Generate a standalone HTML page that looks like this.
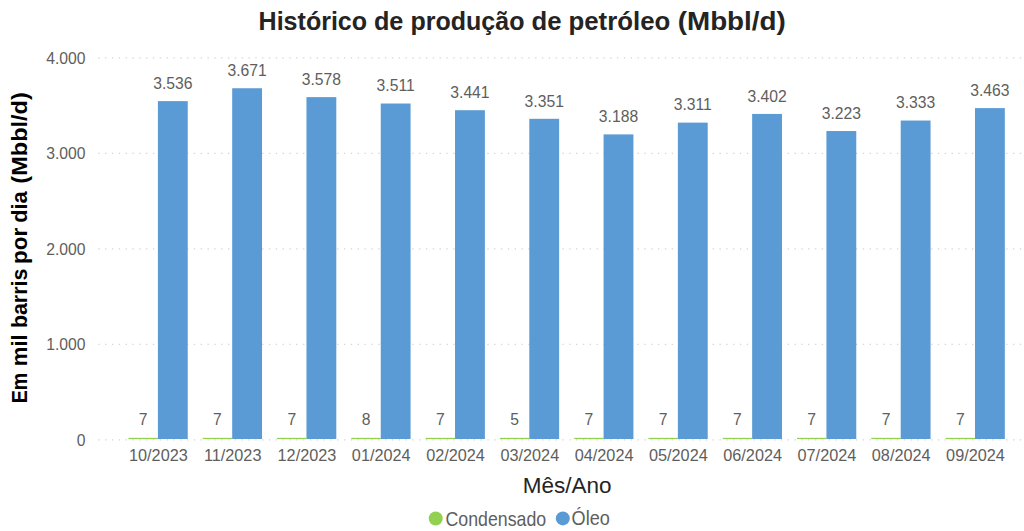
<!DOCTYPE html><html><head><meta charset="utf-8"><title>Histórico de produção de petróleo</title><style>
html,body{margin:0;padding:0;background:#fff;width:1024px;height:531px;overflow:hidden}
svg{display:block;font-family:"Liberation Sans",sans-serif}
</style></head><body>
<svg width="1024" height="531" viewBox="0 0 1024 531">
<line x1="98.29" y1="439.85" x2="1021.10" y2="439.85" stroke="#D4D4D4" stroke-width="1.3" stroke-dasharray="1.3 5.526"/>
<text transform="translate(85.50 445.55) scale(0.9250 1)" text-anchor="end" font-size="17.0" fill="#605E5C">0</text>
<line x1="98.29" y1="344.37" x2="1021.10" y2="344.37" stroke="#D4D4D4" stroke-width="1.3" stroke-dasharray="1.3 5.526"/>
<text transform="translate(85.50 350.07) scale(0.9250 1)" text-anchor="end" font-size="17.0" fill="#605E5C">1.000</text>
<line x1="98.29" y1="248.89" x2="1021.10" y2="248.89" stroke="#D4D4D4" stroke-width="1.3" stroke-dasharray="1.3 5.526"/>
<text transform="translate(85.50 254.59) scale(0.9250 1)" text-anchor="end" font-size="17.0" fill="#605E5C">2.000</text>
<line x1="98.29" y1="153.41" x2="1021.10" y2="153.41" stroke="#D4D4D4" stroke-width="1.3" stroke-dasharray="1.3 5.526"/>
<text transform="translate(85.50 159.11) scale(0.9250 1)" text-anchor="end" font-size="17.0" fill="#605E5C">3.000</text>
<line x1="98.29" y1="57.93" x2="1021.10" y2="57.93" stroke="#D4D4D4" stroke-width="1.3" stroke-dasharray="1.3 5.526"/>
<text transform="translate(85.50 63.63) scale(0.9250 1)" text-anchor="end" font-size="17.0" fill="#605E5C">4.000</text>
<rect x="157.90" y="101.14" width="29.85" height="337.86" fill="#5B9BD5"/>
<rect x="128.50" y="437.85" width="29.4" height="1.25" fill="#92D050"/>
<rect x="232.18" y="88.24" width="29.85" height="350.76" fill="#5B9BD5"/>
<rect x="202.78" y="437.85" width="29.4" height="1.25" fill="#92D050"/>
<rect x="306.46" y="97.12" width="29.85" height="341.88" fill="#5B9BD5"/>
<rect x="277.06" y="437.85" width="29.4" height="1.25" fill="#92D050"/>
<rect x="380.74" y="103.52" width="29.85" height="335.48" fill="#5B9BD5"/>
<rect x="351.34" y="437.85" width="29.4" height="1.25" fill="#92D050"/>
<rect x="455.02" y="110.21" width="29.85" height="328.79" fill="#5B9BD5"/>
<rect x="425.62" y="437.85" width="29.4" height="1.25" fill="#92D050"/>
<rect x="529.30" y="118.81" width="29.85" height="320.19" fill="#5B9BD5"/>
<rect x="499.90" y="437.85" width="29.4" height="1.25" fill="#92D050"/>
<rect x="603.58" y="134.39" width="29.85" height="304.61" fill="#5B9BD5"/>
<rect x="574.18" y="437.85" width="29.4" height="1.25" fill="#92D050"/>
<rect x="677.86" y="122.63" width="29.85" height="316.37" fill="#5B9BD5"/>
<rect x="648.46" y="437.85" width="29.4" height="1.25" fill="#92D050"/>
<rect x="752.14" y="113.94" width="29.85" height="325.06" fill="#5B9BD5"/>
<rect x="722.74" y="437.85" width="29.4" height="1.25" fill="#92D050"/>
<rect x="826.42" y="131.04" width="29.85" height="307.96" fill="#5B9BD5"/>
<rect x="797.02" y="437.85" width="29.4" height="1.25" fill="#92D050"/>
<rect x="900.70" y="120.53" width="29.85" height="318.47" fill="#5B9BD5"/>
<rect x="871.30" y="437.85" width="29.4" height="1.25" fill="#92D050"/>
<rect x="974.98" y="108.11" width="29.85" height="330.89" fill="#5B9BD5"/>
<rect x="945.58" y="437.85" width="29.4" height="1.25" fill="#92D050"/>
<text transform="translate(172.83 88.99) scale(0.9240 1)" text-anchor="middle" font-size="17.0" fill="#605E5C">3.536</text>
<text transform="translate(143.20 425.00) scale(0.9240 1)" text-anchor="middle" font-size="17.0" fill="#605E5C">7</text>
<text transform="translate(158.40 461.20) scale(0.9570 1)" text-anchor="middle" font-size="17.0" fill="#605E5C">10/2023</text>
<text transform="translate(247.11 76.09) scale(0.9240 1)" text-anchor="middle" font-size="17.0" fill="#605E5C">3.671</text>
<text transform="translate(217.48 425.00) scale(0.9240 1)" text-anchor="middle" font-size="17.0" fill="#605E5C">7</text>
<text transform="translate(232.68 461.20) scale(0.9570 1)" text-anchor="middle" font-size="17.0" fill="#605E5C">11/2023</text>
<text transform="translate(321.39 84.97) scale(0.9240 1)" text-anchor="middle" font-size="17.0" fill="#605E5C">3.578</text>
<text transform="translate(291.76 425.00) scale(0.9240 1)" text-anchor="middle" font-size="17.0" fill="#605E5C">7</text>
<text transform="translate(306.96 461.20) scale(0.9570 1)" text-anchor="middle" font-size="17.0" fill="#605E5C">12/2023</text>
<text transform="translate(395.67 91.37) scale(0.9240 1)" text-anchor="middle" font-size="17.0" fill="#605E5C">3.511</text>
<text transform="translate(366.04 425.00) scale(0.9240 1)" text-anchor="middle" font-size="17.0" fill="#605E5C">8</text>
<text transform="translate(381.24 461.20) scale(0.9570 1)" text-anchor="middle" font-size="17.0" fill="#605E5C">01/2024</text>
<text transform="translate(469.94 98.06) scale(0.9240 1)" text-anchor="middle" font-size="17.0" fill="#605E5C">3.441</text>
<text transform="translate(440.32 425.00) scale(0.9240 1)" text-anchor="middle" font-size="17.0" fill="#605E5C">7</text>
<text transform="translate(455.52 461.20) scale(0.9570 1)" text-anchor="middle" font-size="17.0" fill="#605E5C">02/2024</text>
<text transform="translate(544.22 106.66) scale(0.9240 1)" text-anchor="middle" font-size="17.0" fill="#605E5C">3.351</text>
<text transform="translate(514.60 425.00) scale(0.9240 1)" text-anchor="middle" font-size="17.0" fill="#605E5C">5</text>
<text transform="translate(529.80 461.20) scale(0.9570 1)" text-anchor="middle" font-size="17.0" fill="#605E5C">03/2024</text>
<text transform="translate(618.50 122.24) scale(0.9240 1)" text-anchor="middle" font-size="17.0" fill="#605E5C">3.188</text>
<text transform="translate(588.88 425.00) scale(0.9240 1)" text-anchor="middle" font-size="17.0" fill="#605E5C">7</text>
<text transform="translate(604.08 461.20) scale(0.9570 1)" text-anchor="middle" font-size="17.0" fill="#605E5C">04/2024</text>
<text transform="translate(692.78 110.48) scale(0.9240 1)" text-anchor="middle" font-size="17.0" fill="#605E5C">3.311</text>
<text transform="translate(663.16 425.00) scale(0.9240 1)" text-anchor="middle" font-size="17.0" fill="#605E5C">7</text>
<text transform="translate(678.36 461.20) scale(0.9570 1)" text-anchor="middle" font-size="17.0" fill="#605E5C">05/2024</text>
<text transform="translate(767.06 101.79) scale(0.9240 1)" text-anchor="middle" font-size="17.0" fill="#605E5C">3.402</text>
<text transform="translate(737.44 425.00) scale(0.9240 1)" text-anchor="middle" font-size="17.0" fill="#605E5C">7</text>
<text transform="translate(752.64 461.20) scale(0.9570 1)" text-anchor="middle" font-size="17.0" fill="#605E5C">06/2024</text>
<text transform="translate(841.34 118.89) scale(0.9240 1)" text-anchor="middle" font-size="17.0" fill="#605E5C">3.223</text>
<text transform="translate(811.72 425.00) scale(0.9240 1)" text-anchor="middle" font-size="17.0" fill="#605E5C">7</text>
<text transform="translate(826.92 461.20) scale(0.9570 1)" text-anchor="middle" font-size="17.0" fill="#605E5C">07/2024</text>
<text transform="translate(915.62 108.38) scale(0.9240 1)" text-anchor="middle" font-size="17.0" fill="#605E5C">3.333</text>
<text transform="translate(886.00 425.00) scale(0.9240 1)" text-anchor="middle" font-size="17.0" fill="#605E5C">7</text>
<text transform="translate(901.20 461.20) scale(0.9570 1)" text-anchor="middle" font-size="17.0" fill="#605E5C">08/2024</text>
<text transform="translate(989.90 95.96) scale(0.9240 1)" text-anchor="middle" font-size="17.0" fill="#605E5C">3.463</text>
<text transform="translate(960.28 425.00) scale(0.9240 1)" text-anchor="middle" font-size="17.0" fill="#605E5C">7</text>
<text transform="translate(975.48 461.20) scale(0.9570 1)" text-anchor="middle" font-size="17.0" fill="#605E5C">09/2024</text>
<text transform="translate(258.59 29.50) scale(0.9631 1)" text-anchor="start" font-size="26.0" fill="#252423" font-weight="bold">Histórico</text>
<text transform="translate(373.88 29.50) scale(0.9720 1)" text-anchor="start" font-size="26.0" fill="#252423" font-weight="bold">de</text>
<text transform="translate(410.53 29.50) scale(0.9615 1)" text-anchor="start" font-size="26.0" fill="#252423" font-weight="bold">produção</text>
<text transform="translate(531.45 29.50) scale(0.9887 1)" text-anchor="start" font-size="26.0" fill="#252423" font-weight="bold">de</text>
<text transform="translate(568.48 29.50) scale(0.9929 1)" text-anchor="start" font-size="26.0" fill="#252423" font-weight="bold">petróleo</text>
<text transform="translate(677.72 29.50) scale(1.0698 1)" text-anchor="start" font-size="26.0" fill="#252423" font-weight="bold">(Mbbl/d)</text>
<text transform="translate(27.1 403.34) rotate(-90) scale(0.8956 1)" font-size="22.0" font-weight="bold" fill="#000">Em</text>
<text transform="translate(27.1 366.17) rotate(-90) scale(1.0041 1)" font-size="22.0" font-weight="bold" fill="#000">mil</text>
<text transform="translate(27.1 328.10) rotate(-90) scale(0.9727 1)" font-size="22.0" font-weight="bold" fill="#000">barris</text>
<text transform="translate(27.1 263.96) rotate(-90) scale(1.0207 1)" font-size="22.0" font-weight="bold" fill="#000">por</text>
<text transform="translate(27.1 222.86) rotate(-90) scale(0.9923 1)" font-size="22.0" font-weight="bold" fill="#000">dia</text>
<text transform="translate(27.1 183.66) rotate(-90) scale(1.0695 1)" font-size="22.0" font-weight="bold" fill="#000">(Mbbl/d)</text>
<text transform="translate(522.70 493.10) scale(1.0230 1)" text-anchor="start" font-size="22" fill="#252423">Mês/Ano</text>
<circle cx="435.7" cy="518.5" r="7" fill="#92D050"/>
<text transform="translate(445.50 525.60) scale(0.8880 1)" text-anchor="start" font-size="20.0" fill="#605E5C">Condensado</text>
<circle cx="562.8" cy="518.4" r="7" fill="#5B9BD5"/>
<text transform="translate(571.60 525.40) scale(0.9050 1)" text-anchor="start" font-size="20.0" fill="#605E5C">Óleo</text>
</svg></body></html>
